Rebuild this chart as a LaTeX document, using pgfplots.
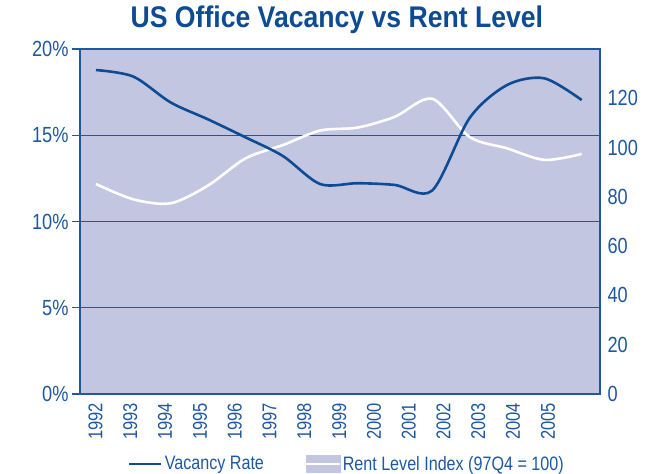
\documentclass[border=0pt]{standalone}
\usepackage{fontspec}
\setmainfont{Liberation Sans}[FakeStretch=0.83]
\newfontfamily\titlefont{Liberation Sans}[FakeStretch=0.89]
\usepackage{pgfplots}
\usepackage{pgfplotstable}
\pgfplotsset{compat=1.18}
\definecolor{navy}{HTML}{0D4C94}
\definecolor{gridblue}{HTML}{1F58A0}
\definecolor{lav}{HTML}{C2C6E1}

% 14 points, evenly spaced; year labels sit on their own (slightly tighter) spacing
\pgfplotstableread{
i vac rent
0 18.78 85.2
1 18.40 79.0
2 16.90 77.4
3 15.92 84.6
4 14.88 95.6
5 13.80 101.0
6 12.17 106.9
7 12.22 108.1
8 12.12 112.5
9 11.80 119.8
10 16.00 104.3
11 17.91 99.7
12 18.30 95.0
13 17.04 97.4
}\data

\pgfplotsset{
  base/.style={scale only axis, width=520bp, height=345bp,
    xmin=-0.428, xmax=13.49,
    /pgf/number format/assume math mode=true},
  tickfont/.style={font=\fontsize{22}{22}\selectfont, text=gridblue},
  vacleg/.style={legend image code/.code={
    \draw[navy, line width=2.6bp] (0bp,0bp) -- (32bp,0bp);}},
  rentleg/.style={legend image code/.code={
    \fill[lav] (0bp,-8.5bp) rectangle (34bp,8.5bp);
    \draw[white, line width=1.8bp] (0bp,0bp) -- (34bp,0bp);}},
}

\begin{document}
\begin{tikzpicture}
\useasboundingbox (-80bp,-80bp) rectangle (582bp,394bp);

% left scale: background, grid, ticks
\begin{axis}[base, ymin=0, ymax=20,
  axis background/.style={fill=lav},
  axis line style={gridblue, line width=1.5bp},
  xtick={-0.013,0.918,1.850,2.781,3.713,4.645,5.576,6.508,7.439,8.371,9.302,10.234,11.165,12.097},
  xticklabels={1992,1993,1994,1995,1996,1997,1998,1999,2000,2001,2002,2003,2004,2005},
  xticklabel style={rotate=90, anchor=east, inner sep=1bp, font=\fontsize{20}{20}\selectfont, text=gridblue},
  x tick style={draw=none},
  ytick={0,5,10,15,20},
  yticklabel={\pgfmathprintnumber{\tick}\%},
  yticklabel style={tickfont},
  y tick style={gridblue, line width=1.4bp},
  tick align=outside, major tick length=8bp,
  xtick pos=left, ytick pos=left,
  ymajorgrids, grid style={gridblue, line width=1.4bp},
  title={US Office Vacancy vs Rent Level},
  title style={font=\titlefont\bfseries\fontsize{30}{30}\selectfont, text=navy,
    at={(0.494,1)}, anchor=base, yshift=15.7bp},
]
\end{axis}

% right scale: rent index
\begin{axis}[base, ymin=0, ymax=140,
  hide x axis, axis y line*=right,
  y axis line style={draw=none},
  ytick={0,20,40,60,80,100,120},
  y tick style={draw=none},
  yticklabel style={tickfont, xshift=4bp},
]
\addplot[white, line width=2.6bp, smooth] table[x=i, y=rent] {\data};
\end{axis}

% left scale again: vacancy line on top, legend
\begin{axis}[base, ymin=0, ymax=20, hide axis,
  legend style={at={(axis description cs:0.0923,-0.203)}, anchor=west,
    draw=none, fill=none, inner sep=0pt,
    font=\fontsize{19.5}{19.5}\selectfont, text=gridblue, legend columns=2,
    /tikz/every even column/.append style={column sep=39bp}},
  legend cell align=left,
]
\addplot[navy, line width=2.6bp, smooth, vacleg] table[x=i, y=vac] {\data};
\addlegendentry{Vacancy Rate}
\addlegendimage{rentleg}
\addlegendentry{Rent Level Index (97Q4 = 100)}
\end{axis}
\end{tikzpicture}
\end{document}
